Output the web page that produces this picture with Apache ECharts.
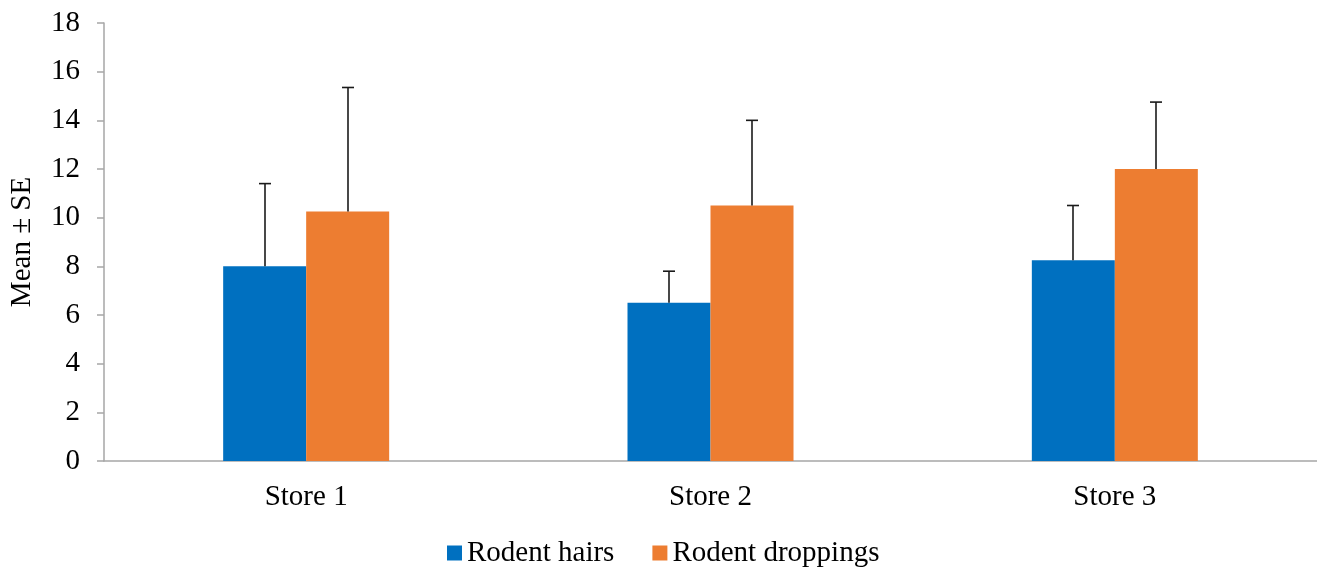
<!DOCTYPE html>
<html>
<head>
<meta charset="utf-8">
<script src="https://cdn.jsdelivr.net/npm/echarts@6/dist/echarts.min.js"></script>
<style>html,body{margin:0;padding:0;background:#fff}#c{width:1317px;height:571px}</style>
</head>
<body>
<div id="c"></div>
<script>
var categories = ['Store 1', 'Store 2', 'Store 3'];
var hairsMean = [8.0, 6.5, 8.25];
var hairsSE = [3.4, 1.3, 2.25];
var droppingsMean = [10.25, 10.5, 12.0];
var droppingsSE = [5.1, 3.5, 2.75];
var yTicks = [0, 2, 4, 6, 8, 10, 12, 14, 16, 18];

var FONT = '"Liberation Serif", "Times New Roman", serif';
var FS = 29;
var BAR_W = 83;

function errData(means, ses) {
  return means.map(function (m, i) { return [i, m, m + ses[i]]; });
}
function errSeries(means, ses, offset) {
  return {
    type: 'custom',
    z: 10,
    silent: true,
    data: errData(means, ses),
    encode: { x: 0, y: [1, 2] },
    renderItem: function (params, api) {
      var p0 = api.coord([api.value(0), api.value(1)]);
      var p1 = api.coord([api.value(0), api.value(2)]);
      var x = Math.round(p0[0] + offset);
      var cap = 6;
      return {
        type: 'group',
        children: [
          { type: 'line', shape: { x1: x, y1: p0[1], x2: x, y2: p1[1] }, style: { stroke: '#1a1a1a', lineWidth: 1.6 } },
          { type: 'line', shape: { x1: x - cap, y1: p1[1], x2: x + cap, y2: p1[1] }, style: { stroke: '#1a1a1a', lineWidth: 1.6 } }
        ]
      };
    }
  };
}

var chart = echarts.init(document.getElementById('c'), null, { renderer: 'canvas' });
chart.setOption({
  animation: false,
  color: ['#0070C0', '#ED7D31'],
  grid: { left: 102, right: 0, top: 23, bottom: 110, containLabel: false },
  legend: {
    top: 533,
    left: 442,
    itemWidth: 15,
    itemHeight: 15,
    itemGap: 38,
    icon: 'rect',
    textStyle: { fontFamily: FONT, fontSize: FS, color: '#000', lineHeight: 30 },
    data: ['Rodent hairs', 'Rodent droppings']
  },
  xAxis: {
    type: 'category',
    data: categories,
    axisLine: { lineStyle: { color: '#A6A6A6', width: 1.5 } },
    axisTick: { show: false },
    axisLabel: { fontFamily: FONT, fontSize: FS, color: '#000', margin: 22 }
  },
  yAxis: {
    type: 'value',
    min: 0,
    max: 18,
    interval: 2,
    name: 'Mean \u00b1 SE',
    nameLocation: 'middle',
    nameGap: 67,
    nameTextStyle: { fontFamily: FONT, fontSize: FS, color: '#000' },
    axisLine: { show: true, lineStyle: { color: '#A6A6A6', width: 1.5 } },
    axisTick: { show: true, length: 7, lineStyle: { color: '#A6A6A6', width: 1.5 } },
    splitLine: { show: false },
    axisLabel: {
      fontFamily: FONT, fontSize: FS, color: '#000', margin: 24,
      formatter: function (v) { return yTicks.indexOf(v) >= 0 ? String(v) : ''; }
    }
  },
  series: [
    { name: 'Rodent hairs', type: 'bar', data: hairsMean, barWidth: BAR_W, barGap: '0%' },
    { name: 'Rodent droppings', type: 'bar', data: droppingsMean, barWidth: BAR_W, barGap: '0%' },
    errSeries(hairsMean, hairsSE, -BAR_W / 2),
    errSeries(droppingsMean, droppingsSE, BAR_W / 2)
  ]
});
</script>
</body>
</html>
